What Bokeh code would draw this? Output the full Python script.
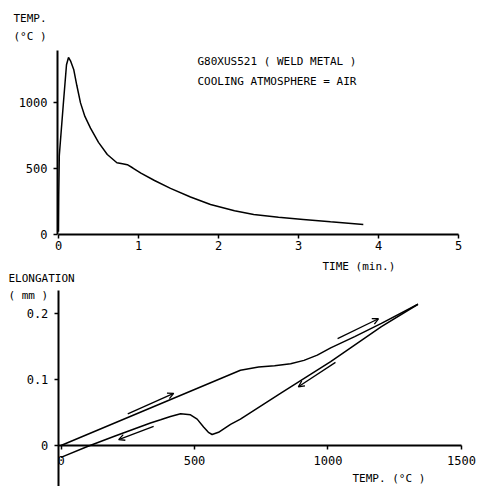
from bokeh.plotting import figure
from bokeh.layouts import column
from bokeh.models import Label, Arrow, OpenHead, FixedTicker, ColumnDataSource, CustomJSTickFormatter
from bokeh.embed import file_html
from bokeh.resources import INLINE

# ---- Thermal cycle (top) ----
time_min = [0, 0.003, 0.01, 0.06, 0.1, 0.125, 0.15, 0.19, 0.23, 0.275, 0.33, 0.4, 0.5, 0.61,
            0.73, 0.8, 0.86, 0.93, 1.03, 1.2, 1.4, 1.65, 1.9, 2.2, 2.44, 2.75, 3.06, 3.4, 3.81]
temp_c = [20, 300, 600, 990, 1290, 1345, 1320, 1254, 1130, 1000, 897, 808, 700, 608,
          545, 537, 530, 505, 466, 410, 350, 285, 228, 180, 152, 130, 114, 96, 76]

# ---- Dilatation curve (bottom) ----
heat_temp = [0, 672, 740, 800, 860, 910, 960, 1010, 1100, 1200, 1337]
heat_elong = [0, 0.114, 0.119, 0.121, 0.124, 0.129, 0.137, 0.148, 0.165, 0.185, 0.214]
cool_temp = [1337, 1200, 1010, 822, 672, 635, 590, 566, 552, 534, 510, 485, 448, 410, 373, 335, 200, 99, 0]
cool_elong = [0.214, 0.180, 0.127, 0.079, 0.040, 0.032, 0.020, 0.0167, 0.020, 0.028, 0.040,
              0.0465, 0.048, 0.044, 0.039, 0.034, 0.014, -0.0015, -0.018]

# direction arrows
arrow_t0 = [250, 347, 1036, 1028]
arrow_e0 = [0.048, 0.029, 0.162, 0.126]
arrow_t1 = [422, 216, 1189, 889]
arrow_e1 = [0.079, 0.009, 0.192, 0.089]

top_x_ticks = [0, 1, 2, 3, 4, 5]
top_y_ticks = [0, 500, 1000]
bot_x_ticks = [0, 500, 1000, 1500]
bot_y_ticks = [0, 0.1, 0.2]

FONT = "DejaVu Sans Mono"


def style(p):
    p.grid.visible = False
    p.outline_line_color = None
    p.background_fill_color = "white"
    p.border_fill_color = "white"
    for ax in p.axis:
        ax.axis_line_color = "black"
        ax.axis_line_width = 2
        ax.major_tick_line_color = "black"
        ax.major_tick_line_width = 1.5
        ax.major_tick_out = 4
        ax.major_tick_in = 0
        ax.minor_tick_line_color = None
        ax.major_label_text_font = FONT
        ax.major_label_text_font_size = "12px"
        ax.major_label_text_color = "black"
        ax.major_label_standoff = 3
    for ax in p.yaxis:
        ax.major_label_standoff = 6


def lab(p, x, y, text, size="11px"):
    p.add_layout(Label(x=x, y=y, x_units="screen", y_units="screen", text=text,
                       text_font=FONT, text_font_size=size, text_color="black",
                       text_baseline="middle", text_align="left"))


p1 = figure(width=478, height=272, x_range=(-0.725, 5.25), y_range=(-289, 1778),
            output_backend="svg", toolbar_location=None,
            min_border_left=0, min_border_right=0, min_border_top=0, min_border_bottom=0)
p1.line(time_min, temp_c, line_color="black", line_width=1.5)
style(p1)
p1.xaxis.fixed_location = 0
p1.yaxis.fixed_location = -0.012
p1.xaxis.bounds = (0, 5)
p1.yaxis.bounds = (0, 1395)
p1.xaxis.ticker = FixedTicker(ticks=top_x_ticks)
p1.yaxis.ticker = FixedTicker(ticks=top_y_ticks)
lab(p1, 13, 254, "TEMP.")
lab(p1, 13, 236, "(°C )")
lab(p1, 197, 211, "G80XUS521 ( WELD METAL )")
lab(p1, 197, 191, "COOLING ATMOSPHERE = AIR")
lab(p1, 322, 6, "TIME (min.)")

p2 = figure(width=478, height=214, x_range=(-226.6, 1563.7), y_range=(-0.0621, 0.2621),
            output_backend="svg", toolbar_location=None,
            min_border_left=0, min_border_right=0, min_border_top=0, min_border_bottom=0)
p2.line(heat_temp, heat_elong, line_color="black", line_width=1.5)
p2.line(cool_temp, cool_elong, line_color="black", line_width=1.5)
src = ColumnDataSource(dict(x0=arrow_t0, y0=arrow_e0, x1=arrow_t1, y1=arrow_e1))
p2.add_layout(Arrow(end=OpenHead(size=6, line_width=1.3, line_color="black"),
                    x_start="x0", y_start="y0", x_end="x1", y_end="y1",
                    line_width=1.3, line_color="black", source=src))
style(p2)
p2.xaxis.fixed_location = 0
p2.yaxis.fixed_location = -10
p2.xaxis.bounds = (-10, 1500)
p2.yaxis.bounds = (-0.0621, 0.235)
p2.xaxis.major_label_standoff = 6
p2.xaxis.ticker = FixedTicker(ticks=bot_x_ticks)
p2.yaxis.ticker = FixedTicker(ticks=bot_y_ticks)
p2.yaxis.formatter = CustomJSTickFormatter(code="return tick == 0 ? '0' : tick.toFixed(1);")
lab(p2, 8, 208, "ELONGATION")
lab(p2, 8, 191, "( mm )")
lab(p2, 352, 8, "TEMP. (°C )")

layout = column(p1, p2)
open("out.html", "w").write(file_html(layout, INLINE))
